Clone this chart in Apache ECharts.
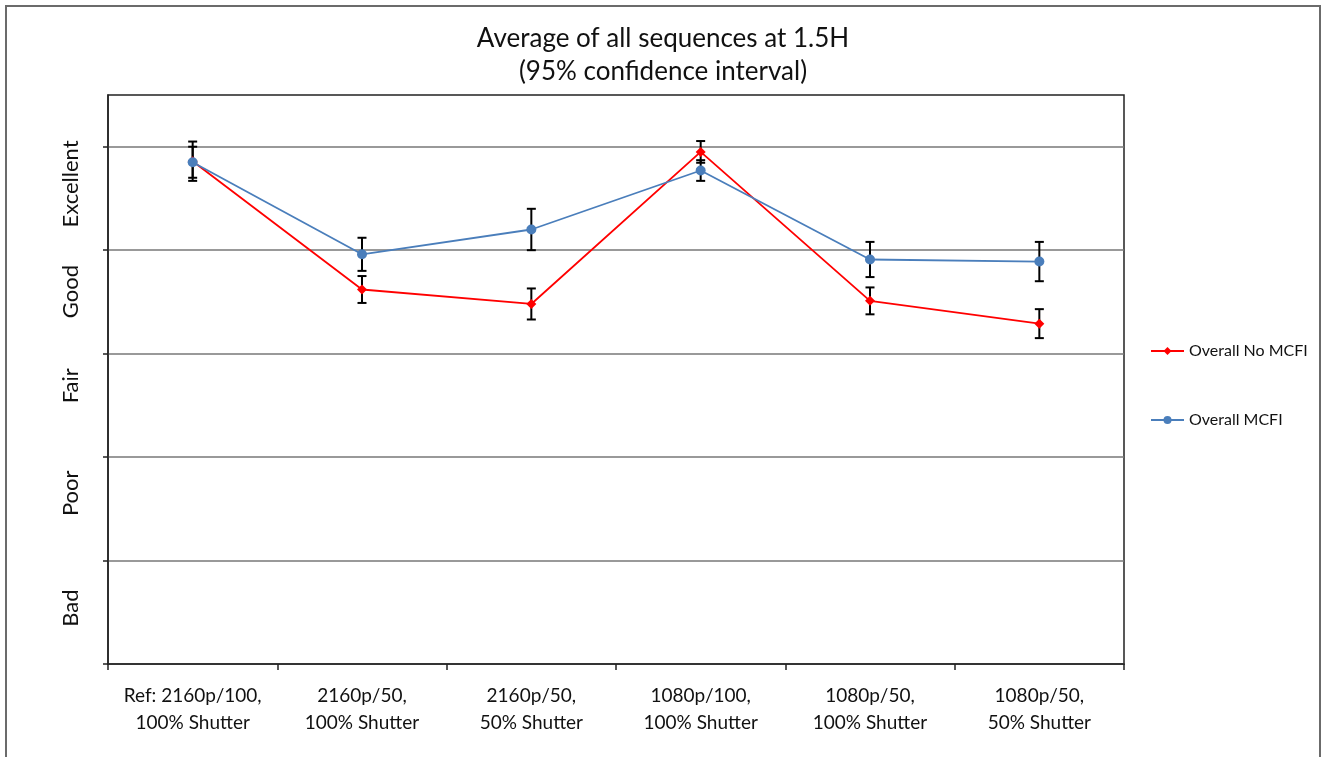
<!DOCTYPE html>
<html>
<head>
<meta charset="utf-8">
<title>Average of all sequences at 1.5H</title>
<script src="https://cdn.jsdelivr.net/npm/echarts@6/dist/echarts.min.js"></script>
<style>
  html, body { margin: 0; padding: 0; background: #fff; }
  #frame { position: absolute; left: 5px; top: 5px; width: 1312px; height: 760px;
           border-left: 2px solid #6b6b6b; border-top: 2px solid #6b6b6b; border-right: 2px solid #6b6b6b; }
  #chart { position: absolute; left: 0; top: 0; width: 1326px; height: 757px; }
</style>
</head>
<body>
<div id="frame"></div>
<div id="chart"></div>
<script>
// Test conditions along the x axis
const categories = [
  'Ref: 2160p/100,\n100% Shutter',
  '2160p/50,\n100% Shutter',
  '2160p/50,\n50% Shutter',
  '1080p/100,\n100% Shutter',
  '1080p/50,\n100% Shutter',
  '1080p/50,\n50% Shutter'
];

// Mean opinion scores (0 = bottom of Bad, 5 = top of Excellent)
const noMcfi = [4.86, 3.62, 3.48, 4.95, 3.51, 3.29];
const mcfi   = [4.85, 3.96, 4.20, 4.77, 3.91, 3.89];

// Half-width of the 95% confidence interval for each point
const noMcfiCi = [0.19, 0.13, 0.15, 0.105, 0.13, 0.14];
const mcfiCi   = [0.15, 0.16, 0.20, 0.10, 0.17, 0.19];

// Quality scale labels and where they sit on the score axis
const scaleNames  = ['Bad', 'Poor', 'Fair', 'Good', 'Excellent'];
const scaleValues = [0.54, 1.65, 2.69, 3.60, 4.64];
const scaleTicks  = [0, 1, 2, 3, 4, 5];

const FONT = 'Lato, "Open Sans", sans-serif';

function errorData(values, ci) {
  return values.map((v, i) => [i, v - ci[i], v + ci[i]]);
}

function renderErrorBar(params, api) {
  const x = api.value(0);
  const lo = api.coord([x, api.value(1)]);
  const hi = api.coord([x, api.value(2)]);
  const half = 4.5;
  const style = { stroke: '#000', lineWidth: 2 };
  return {
    type: 'group',
    children: [
      { type: 'line', shape: { x1: lo[0], y1: lo[1], x2: hi[0], y2: hi[1] }, style },
      { type: 'line', shape: { x1: lo[0] - half, y1: lo[1], x2: lo[0] + half, y2: lo[1] }, style },
      { type: 'line', shape: { x1: hi[0] - half, y1: hi[1], x2: hi[0] + half, y2: hi[1] }, style }
    ]
  };
}

const chart = echarts.init(document.getElementById('chart'), null, { renderer: 'canvas' });

chart.setOption({
  animation: false,
  backgroundColor: 'transparent',
  title: {
    text: 'Average of all sequences at 1.5H\n(95% confidence interval)',
    left: 'center',
    top: 17,
    textStyle: { fontFamily: FONT, fontSize: 26, fontWeight: 'normal', color: '#111', lineHeight: 33 }
  },
  legend: {
    orient: 'vertical',
    left: 1145,
    top: 338,
    itemWidth: 33,
    itemHeight: 10,
    itemGap: 53,
    data: ['Overall No MCFI', 'Overall MCFI'],
    textStyle: { fontFamily: FONT, fontSize: 16, color: '#111' }
  },
  grid: {
    left: 108, right: 202, top: 95, bottom: 93,
    show: true, borderColor: '#222', borderWidth: 1.5, backgroundColor: '#fff'
  },
  xAxis: {
    type: 'category',
    data: categories,
    boundaryGap: true,
    axisLine: { lineStyle: { color: '#222', width: 1.5 } },
    axisTick: { show: true, interval: 0, length: 6, lineStyle: { color: '#222', width: 1.5 } },
    axisLabel: { interval: 0, hideOverlap: false, fontFamily: FONT, fontSize: 19, color: '#111', lineHeight: 27, margin: 18 }
  },
  yAxis: {
    type: 'value',
    min: 0,
    max: 5.5,
    interval: 1,
    axisLine: { show: true, lineStyle: { color: '#222', width: 1.5 } },
    axisTick: { show: true, length: 5, customValues: scaleTicks, lineStyle: { color: '#222', width: 1.5 } },
    splitLine: { show: true, lineStyle: { color: '#777', width: 1.5 } },
    axisLabel: {
      customValues: scaleValues,
      rotate: 90,
      margin: 26,
      fontFamily: FONT,
      fontSize: 22,
      color: '#111',
      formatter: (v) => {
        const i = scaleValues.indexOf(v);
        return i >= 0 ? scaleNames[i] : '';
      }
    }
  },
  series: [
    {
      type: 'custom',
      name: 'ci-no-mcfi',
      renderItem: renderErrorBar,
      data: errorData(noMcfi, noMcfiCi),
      encode: { x: 0, y: [1, 2] },
      z: 1,
      silent: true
    },
    {
      type: 'custom',
      name: 'ci-mcfi',
      renderItem: renderErrorBar,
      data: errorData(mcfi, mcfiCi),
      encode: { x: 0, y: [1, 2] },
      z: 1,
      silent: true
    },
    {
      name: 'Overall No MCFI',
      type: 'line',
      data: noMcfi,
      symbol: 'diamond',
      symbolSize: 10,
      showAllSymbol: true,
      itemStyle: { color: '#ff0000' },
      lineStyle: { color: '#ff0000', width: 1.8 },
      z: 3
    },
    {
      name: 'Overall MCFI',
      type: 'line',
      data: mcfi,
      symbol: 'circle',
      symbolSize: 10,
      showAllSymbol: true,
      itemStyle: { color: '#4a7ebb' },
      lineStyle: { color: '#4a7ebb', width: 1.8 },
      z: 4
    }
  ]
});
</script>
</body>
</html>
